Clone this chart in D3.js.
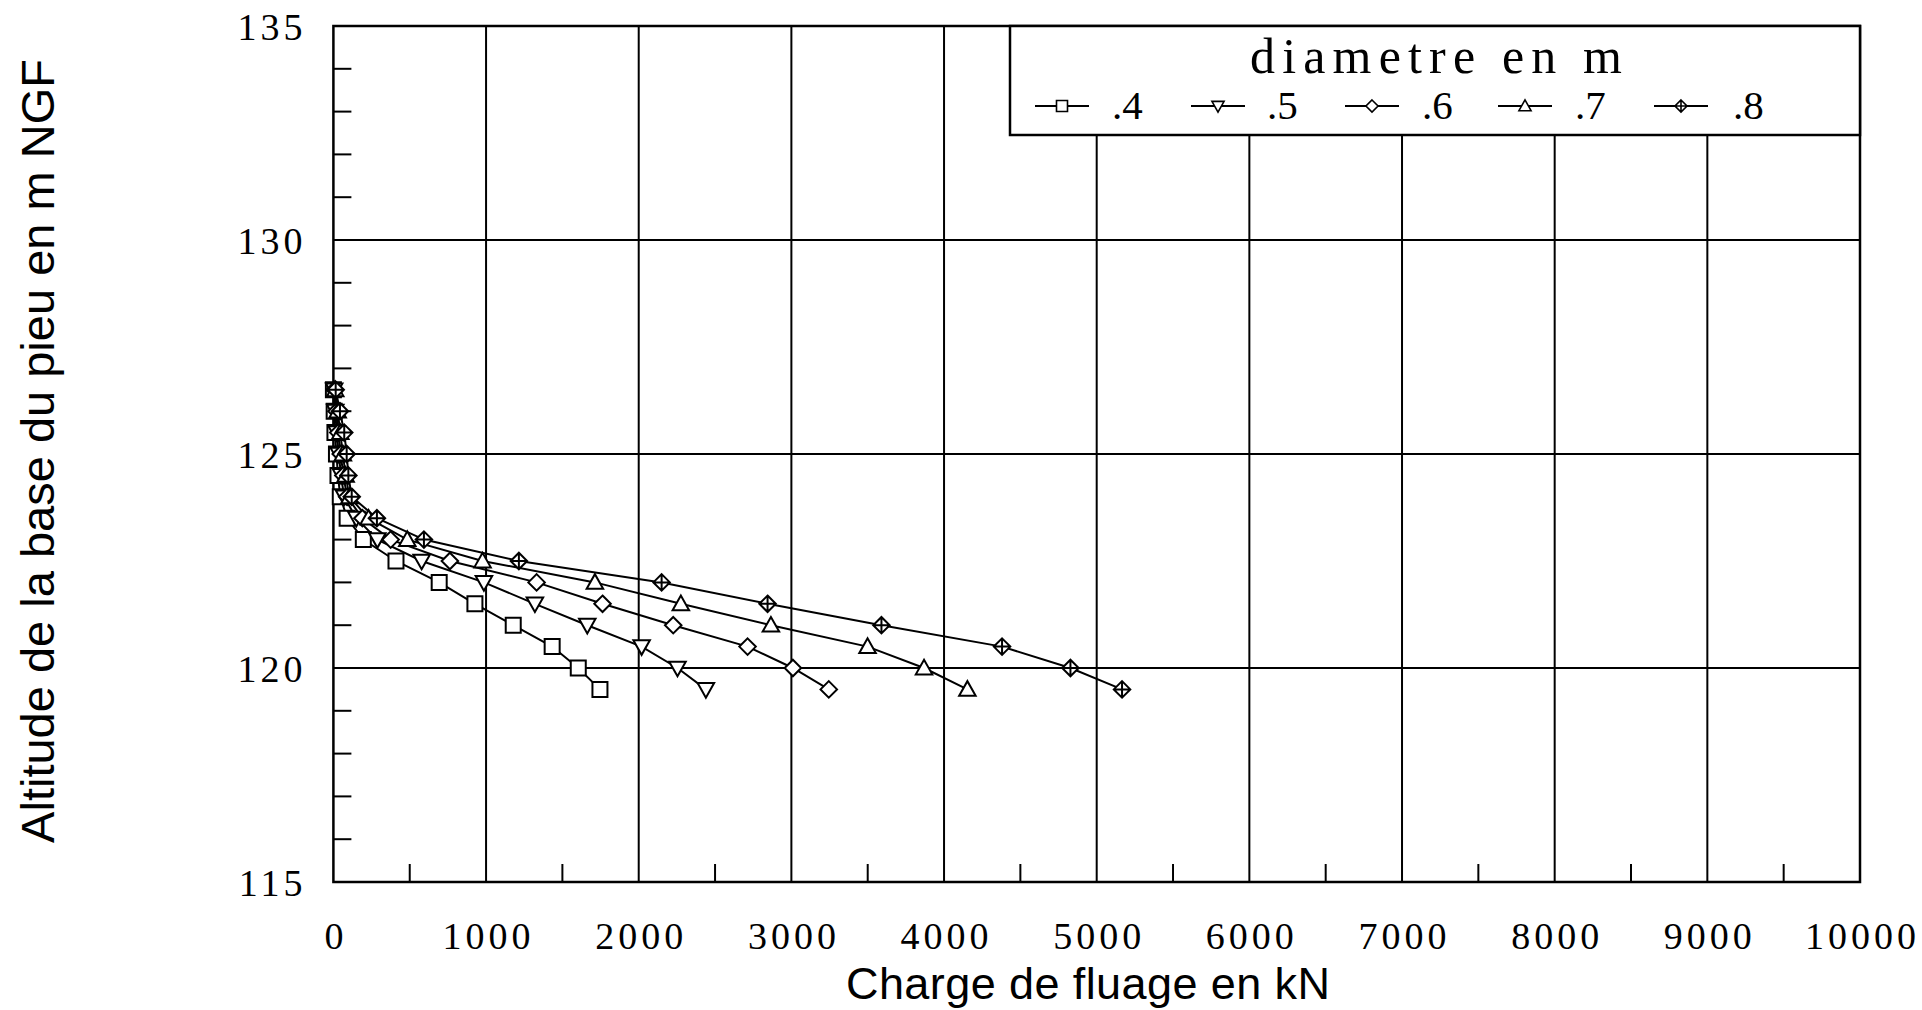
<!DOCTYPE html>
<html><head><meta charset="utf-8">
<script src="https://cdn.jsdelivr.net/npm/d3@7"></script>
<style>
html,body{margin:0;padding:0;background:#fff;}
svg{display:block;}
</style></head>
<body>
<svg id="chart" width="1922" height="1010"></svg>
<script>
// ---- data ----
const altitudes = [126.5, 126, 125.5, 125, 124.5, 124, 123.5, 123, 122.5, 122, 121.5, 121, 120.5, 120, 119.5];
const diameters = [".4", ".5", ".6", ".7", ".8"];
const charge04 = [0, 5, 10, 20, 30, 45, 90, 196, 410, 693, 927, 1178, 1433, 1604, 1746];
const charge05 = [5, 12, 22, 35, 50, 70, 150, 288, 578, 986, 1320, 1663, 2019, 2254, 2440];
const charge06 = [8, 20, 32, 48, 65, 90, 190, 375, 763, 1331, 1763, 2226, 2713, 3010, 3245];
const charge07 = [12, 28, 45, 62, 80, 105, 230, 484, 977, 1713, 2276, 2866, 3499, 3869, 4153];
const charge08 = [15, 43, 71, 87, 98, 120, 285, 593, 1215, 2150, 2844, 3590, 4380, 4828, 5166];
const markerTypes = ["square", "triangleDown", "diamond", "triangleUp", "diamondPlus"];
const xTicks = [0,1000,2000,3000,4000,5000,6000,7000,8000,9000,10000];
const yTicks = [115,120,125,130,135];
const legendTitle = "diametre en m";
const xTitle = "Charge de fluage en kN";
const yTitle = "Altitude de la base du pieu en m NGF";

const seriesValues = [charge04, charge05, charge06, charge07, charge08];

// ---- layout ----
const svg = d3.select("#chart");
const L = 333.4, R = 1860, T = 26, B = 882;
const x = d3.scaleLinear().domain([0, 10000]).range([L, R]);
const y = d3.scaleLinear().domain([115, 135]).range([B, T]);

const legX0 = 1010, legY1 = 135;

const g = svg.append("g");

// grid lines
xTicks.filter(v => v > 0 && v < 10000).forEach(v => {
  const px = x(v);
  const top = px > legX0 ? legY1 : T;
  g.append("line").attr("x1", px).attr("x2", px).attr("y1", top).attr("y2", B)
    .attr("stroke", "#000").attr("stroke-width", 2);
});
yTicks.filter(v => v > 115 && v < 135).forEach(v => {
  g.append("line").attr("x1", L).attr("x2", R).attr("y1", y(v)).attr("y2", y(v))
    .attr("stroke", "#000").attr("stroke-width", 2);
});

// minor ticks
d3.range(116, 135, 1).filter(v => v % 5 !== 0).forEach(v => {
  g.append("line").attr("x1", L).attr("x2", L + 18).attr("y1", y(v)).attr("y2", y(v))
    .attr("stroke", "#000").attr("stroke-width", 2);
});
d3.range(500, 10000, 1000).forEach(v => {
  g.append("line").attr("x1", x(v)).attr("x2", x(v)).attr("y1", B).attr("y2", B - 18)
    .attr("stroke", "#000").attr("stroke-width", 2);
});

// frame
g.append("rect").attr("x", L).attr("y", T).attr("width", R - L).attr("height", B - T)
  .attr("fill", "none").attr("stroke", "#000").attr("stroke-width", 2.5);

// tick labels through d3 axes
const xAxis = d3.axisBottom(x).tickValues(xTicks).tickFormat(d3.format("d")).tickSize(0).tickPadding(0);
const xa = svg.append("g").attr("transform", `translate(0,${B})`).call(xAxis);
xa.select(".domain").remove();
xa.selectAll("text").attr("y", 67).attr("dy", 0).attr("dx", 2)
  .style("font-family", "'Liberation Serif', serif").style("font-size", "38px")
  .style("letter-spacing", "4px").attr("fill", "#000");

const yAxis = d3.axisLeft(y).tickValues(yTicks).tickFormat(d3.format("d")).tickSize(0).tickPadding(0);
const ya = svg.append("g").attr("transform", `translate(${L},0)`).call(yAxis);
ya.select(".domain").remove();
ya.selectAll("text").attr("x", -27).attr("dy", "0.35em")
  .style("font-family", "'Liberation Serif', serif").style("font-size", "38px")
  .style("letter-spacing", "4px").attr("fill", "#000");

// axis titles
svg.append("text").attr("x", 1088).attr("y", 999).attr("text-anchor", "middle")
  .attr("textLength", 484).attr("lengthAdjust", "spacing")
  .style("font-family", "'Liberation Sans', Arial, sans-serif").style("font-size", "45px")
  .text(xTitle);
svg.append("text").attr("transform", "translate(54,451) rotate(-90)").attr("text-anchor", "middle")
  .style("font-family", "'Liberation Sans', Arial, sans-serif").style("font-size", "47px")
  .text(yTitle);

// marker shapes
function markerPath(type, s) {
  const p = d3.path();
  if (type === "square") {
    p.rect(-s, -s, 2 * s, 2 * s);
  } else if (type === "triangleDown") {
    p.moveTo(-s * 1.1, -s * 0.85); p.lineTo(s * 1.1, -s * 0.85); p.lineTo(0, s * 1.1); p.closePath();
  } else if (type === "triangleUp") {
    p.moveTo(-s * 1.1, s * 0.85); p.lineTo(s * 1.1, s * 0.85); p.lineTo(0, -s * 1.1); p.closePath();
  } else {
    p.moveTo(0, -s * 1.1); p.lineTo(s * 1.1, 0); p.lineTo(0, s * 1.1); p.lineTo(-s * 1.1, 0); p.closePath();
    if (type === "diamondPlus") {
      p.moveTo(0, -s * 1.1); p.lineTo(0, s * 1.1);
      p.moveTo(-s * 1.1, 0); p.lineTo(s * 1.1, 0);
    }
  }
  return p.toString();
}

// series
const line = d3.line().x(d => x(d[0])).y(d => y(d[1]));
const plot = svg.append("g");
seriesValues.forEach((vals) => {
  const pts = vals.map((v, k) => [v, altitudes[k]]);
  plot.append("path").attr("d", line(pts)).attr("fill", "none")
    .attr("stroke", "#000").attr("stroke-width", 2);
});
seriesValues.forEach((vals, i) => {
  const pts = vals.map((v, k) => [v, altitudes[k]]);
  plot.selectAll(null).data(pts).enter().append("path")
    .attr("transform", d => `translate(${x(d[0])},${y(d[1])})`)
    .attr("d", markerPath(markerTypes[i], 7.5))
    .attr("fill", "#fff").attr("stroke", "#000").attr("stroke-width", 2);
});

// legend
const leg = svg.append("g");
leg.append("rect").attr("x", legX0).attr("y", T).attr("width", R - legX0).attr("height", legY1 - T)
  .attr("fill", "#fff").attr("stroke", "#000").attr("stroke-width", 2.5);
leg.append("text").attr("x", 1436).attr("y", 73).attr("text-anchor", "middle")
  .attr("textLength", 372).attr("lengthAdjust", "spacing")
  .style("font-family", "'Liberation Serif', serif").style("font-size", "50px")
  .text(legendTitle);
const legMarkX = [1062, 1218, 1372, 1525, 1681];
const legLabX = [1112, 1267, 1422, 1575, 1733];
diameters.forEach((dname, i) => {
  const cx = legMarkX[i], cy = 106;
  leg.append("line").attr("x1", cx - 27).attr("x2", cx + 27).attr("y1", cy).attr("y2", cy)
    .attr("stroke", "#000").attr("stroke-width", 2);
  leg.append("path").attr("transform", `translate(${cx},${cy})`)
    .attr("d", markerPath(markerTypes[i], 5.5))
    .attr("fill", "#fff").attr("stroke", "#000").attr("stroke-width", 1.6);
  leg.append("text").attr("x", legLabX[i]).attr("y", 119)
    .style("font-family", "'Liberation Serif', serif").style("font-size", "41px")
    .text(dname);
});
</script>
</body></html>
